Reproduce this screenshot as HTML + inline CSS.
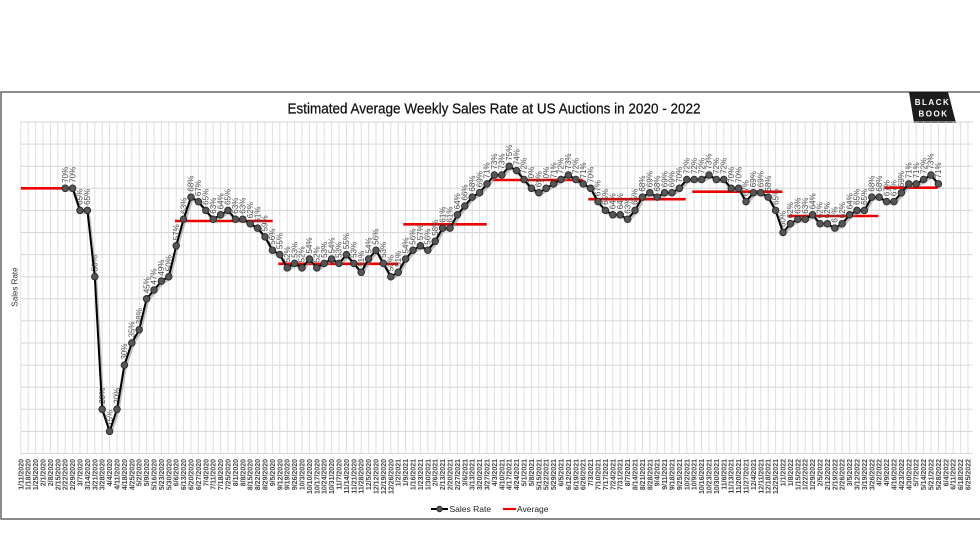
<!DOCTYPE html>
<html><head><meta charset="utf-8"><style>
html,body{margin:0;padding:0;background:#fff;width:980px;height:552px;overflow:hidden}
svg{display:block}
.dl{font-family:"Liberation Sans",Arial,sans-serif;font-size:8px;fill:#4e4e4e}
.xl{font-family:"Liberation Sans",Arial,sans-serif;font-size:7px;font-weight:bold;fill:#444}
</style></head><body>
<svg width="980" height="552" viewBox="0 0 980 552" xmlns="http://www.w3.org/2000/svg">
<defs>
<marker id="m" markerWidth="10" markerHeight="10" refX="5" refY="5" markerUnits="userSpaceOnUse">
<circle cx="5" cy="5" r="3.3" fill="#555" stroke="#2a2a2a" stroke-width="0.9"/>
</marker>
</defs>
<rect x="1" y="92" width="990" height="427" fill="#fff" stroke="#666" stroke-width="1.5"/>
<text x="494" y="113.5" text-anchor="middle" font-family="Liberation Sans, Arial, sans-serif" font-size="14.5" fill="#111" stroke="#111" stroke-width="0.25" textLength="413" lengthAdjust="spacingAndGlyphs">Estimated Average Weekly Sales Rate at US Auctions in 2020 - 2022</text>
<polygon points="909,92 948,92 956,123 914,123" fill="#1c1c1c"/>
<text x="932.5" y="105" text-anchor="middle" font-family="Liberation Sans, Arial, sans-serif" font-size="8" font-weight="bold" fill="#fff" letter-spacing="1.5">BLACK</text>
<text x="933.5" y="116.5" text-anchor="middle" font-family="Liberation Sans, Arial, sans-serif" font-size="8" font-weight="bold" fill="#fff" letter-spacing="1.5">BOOK</text>
<path stroke="#dfdfdf" stroke-width="1" fill="none" d="M20.8 122V453.5M28.2 122V453.5M35.6 122V453.5M43 122V453.5M50.4 122V453.5M57.8 122V453.5M65.2 122V453.5M72.6 122V453.5M80 122V453.5M87.4 122V453.5M94.8 122V453.5M102.2 122V453.5M109.6 122V453.5M117 122V453.5M124.4 122V453.5M131.8 122V453.5M139.2 122V453.5M146.6 122V453.5M154 122V453.5M161.4 122V453.5M168.8 122V453.5M176.2 122V453.5M183.6 122V453.5M191 122V453.5M198.4 122V453.5M205.8 122V453.5M213.2 122V453.5M220.6 122V453.5M228 122V453.5M235.4 122V453.5M242.8 122V453.5M250.2 122V453.5M257.6 122V453.5M265 122V453.5M272.4 122V453.5M279.8 122V453.5M287.2 122V453.5M294.6 122V453.5M302 122V453.5M309.4 122V453.5M316.8 122V453.5M324.2 122V453.5M331.6 122V453.5M339 122V453.5M346.4 122V453.5M353.8 122V453.5M361.2 122V453.5M368.6 122V453.5M376 122V453.5M383.4 122V453.5M390.8 122V453.5M398.2 122V453.5M405.6 122V453.5M413 122V453.5M420.4 122V453.5M427.8 122V453.5M435.2 122V453.5M442.6 122V453.5M450 122V453.5M457.4 122V453.5M464.8 122V453.5M472.2 122V453.5M479.6 122V453.5M487 122V453.5M494.4 122V453.5M501.8 122V453.5M509.2 122V453.5M516.6 122V453.5M524 122V453.5M531.4 122V453.5M538.8 122V453.5M546.2 122V453.5M553.6 122V453.5M561 122V453.5M568.4 122V453.5M575.8 122V453.5M583.2 122V453.5M590.6 122V453.5M598 122V453.5M605.4 122V453.5M612.8 122V453.5M620.2 122V453.5M627.6 122V453.5M635 122V453.5M642.4 122V453.5M649.8 122V453.5M657.2 122V453.5M664.6 122V453.5M672 122V453.5M679.4 122V453.5M686.8 122V453.5M694.2 122V453.5M701.6 122V453.5M709 122V453.5M716.4 122V453.5M723.8 122V453.5M731.2 122V453.5M738.6 122V453.5M746 122V453.5M753.4 122V453.5M760.8 122V453.5M768.2 122V453.5M775.6 122V453.5M783 122V453.5M790.4 122V453.5M797.8 122V453.5M805.2 122V453.5M812.6 122V453.5M820 122V453.5M827.4 122V453.5M834.8 122V453.5M842.2 122V453.5M849.6 122V453.5M857 122V453.5M864.4 122V453.5M871.8 122V453.5M879.2 122V453.5M886.6 122V453.5M894 122V453.5M901.4 122V453.5M908.8 122V453.5M916.2 122V453.5M923.6 122V453.5M931 122V453.5M938.4 122V453.5M945.8 122V453.5M953.2 122V453.5M960.6 122V453.5M968 122V453.5"/>
<path stroke="#d6d6d6" stroke-width="1" fill="none" d="M20.8 122H972.5M20.8 144.1H972.5M20.8 166.2H972.5M20.8 188.3H972.5M20.8 210.4H972.5M20.8 232.5H972.5M20.8 254.6H972.5M20.8 276.7H972.5M20.8 298.8H972.5M20.8 320.9H972.5M20.8 343H972.5M20.8 365.1H972.5M20.8 387.2H972.5M20.8 409.3H972.5M20.8 431.4H972.5M20.8 453.5H972.5"/>
<text transform="translate(17.5,287) rotate(-90)" text-anchor="middle" font-family="Liberation Sans, Arial, sans-serif" font-size="8" fill="#333">Sales Rate</text>
<g stroke="#ee0000" stroke-width="2.6" fill="none">
<path d="M20.8 188.3H72.6"/><path d="M175 221H272.7"/><path d="M278.3 263.8H398.3"/><path d="M403.3 224.3H486.7"/><path d="M492.7 180H582.7"/><path d="M588.3 199.2H685.7"/><path d="M692.3 191.7H782.3"/><path d="M788.3 216H878.3"/><path d="M884.3 187.7H937.7"/>
</g>
<g class="dl">
<text transform="translate(67.9,182.8) rotate(-90)">70%</text>
<text transform="translate(75.3,182.8) rotate(-90)">70%</text>
<text transform="translate(82.7,204.9) rotate(-90)">65%</text>
<text transform="translate(90.1,204.9) rotate(-90)">65%</text>
<text transform="translate(97.5,271.2) rotate(-90)">50%</text>
<text transform="translate(104.9,403.8) rotate(-90)">20%</text>
<text transform="translate(112.3,425.9) rotate(-90)">15%</text>
<text transform="translate(119.7,403.8) rotate(-90)">20%</text>
<text transform="translate(127.1,359.6) rotate(-90)">30%</text>
<text transform="translate(134.5,337.5) rotate(-90)">35%</text>
<text transform="translate(141.9,324.2) rotate(-90)">38%</text>
<text transform="translate(149.3,293.3) rotate(-90)">45%</text>
<text transform="translate(156.7,284.5) rotate(-90)">47%</text>
<text transform="translate(164.1,275.6) rotate(-90)">49%</text>
<text transform="translate(171.5,271.2) rotate(-90)">50%</text>
<text transform="translate(178.9,240.3) rotate(-90)">57%</text>
<text transform="translate(186.3,213.7) rotate(-90)">63%</text>
<text transform="translate(193.7,191.6) rotate(-90)">68%</text>
<text transform="translate(201.1,196.1) rotate(-90)">67%</text>
<text transform="translate(208.5,204.9) rotate(-90)">65%</text>
<text transform="translate(215.9,213.7) rotate(-90)">63%</text>
<text transform="translate(223.3,209.3) rotate(-90)">64%</text>
<text transform="translate(230.7,204.9) rotate(-90)">65%</text>
<text transform="translate(238.1,213.7) rotate(-90)">63%</text>
<text transform="translate(245.5,213.7) rotate(-90)">63%</text>
<text transform="translate(252.9,218.2) rotate(-90)">62%</text>
<text transform="translate(260.3,222.6) rotate(-90)">61%</text>
<text transform="translate(267.7,231.4) rotate(-90)">59%</text>
<text transform="translate(275.1,244.7) rotate(-90)">56%</text>
<text transform="translate(282.5,249.1) rotate(-90)">55%</text>
<text transform="translate(289.9,262.4) rotate(-90)">52%</text>
<text transform="translate(297.3,257.9) rotate(-90)">53%</text>
<text transform="translate(304.7,262.4) rotate(-90)">52%</text>
<text transform="translate(312.1,253.5) rotate(-90)">54%</text>
<text transform="translate(319.5,262.4) rotate(-90)">52%</text>
<text transform="translate(326.9,257.9) rotate(-90)">53%</text>
<text transform="translate(334.3,253.5) rotate(-90)">54%</text>
<text transform="translate(341.7,257.9) rotate(-90)">53%</text>
<text transform="translate(349.1,249.1) rotate(-90)">55%</text>
<text transform="translate(356.5,257.9) rotate(-90)">53%</text>
<text transform="translate(363.9,266.8) rotate(-90)">51%</text>
<text transform="translate(371.3,253.5) rotate(-90)">54%</text>
<text transform="translate(378.7,244.7) rotate(-90)">56%</text>
<text transform="translate(386.1,257.9) rotate(-90)">53%</text>
<text transform="translate(393.5,271.2) rotate(-90)">50%</text>
<text transform="translate(400.9,266.8) rotate(-90)">51%</text>
<text transform="translate(408.3,253.5) rotate(-90)">54%</text>
<text transform="translate(415.7,244.7) rotate(-90)">56%</text>
<text transform="translate(423.1,240.3) rotate(-90)">57%</text>
<text transform="translate(430.5,244.7) rotate(-90)">56%</text>
<text transform="translate(437.9,235.8) rotate(-90)">58%</text>
<text transform="translate(445.3,222.6) rotate(-90)">61%</text>
<text transform="translate(452.7,222.6) rotate(-90)">61%</text>
<text transform="translate(460.1,209.3) rotate(-90)">64%</text>
<text transform="translate(467.5,200.5) rotate(-90)">66%</text>
<text transform="translate(474.9,191.6) rotate(-90)">68%</text>
<text transform="translate(482.3,187.2) rotate(-90)">69%</text>
<text transform="translate(489.7,178.4) rotate(-90)">71%</text>
<text transform="translate(497.1,169.5) rotate(-90)">73%</text>
<text transform="translate(504.5,169.5) rotate(-90)">73%</text>
<text transform="translate(511.9,160.7) rotate(-90)">75%</text>
<text transform="translate(519.3,165.1) rotate(-90)">74%</text>
<text transform="translate(526.7,174) rotate(-90)">72%</text>
<text transform="translate(534.1,182.8) rotate(-90)">70%</text>
<text transform="translate(541.5,187.2) rotate(-90)">69%</text>
<text transform="translate(548.9,182.8) rotate(-90)">70%</text>
<text transform="translate(556.3,178.4) rotate(-90)">71%</text>
<text transform="translate(563.7,174) rotate(-90)">72%</text>
<text transform="translate(571.1,169.5) rotate(-90)">73%</text>
<text transform="translate(578.5,174) rotate(-90)">72%</text>
<text transform="translate(585.9,178.4) rotate(-90)">71%</text>
<text transform="translate(593.3,182.8) rotate(-90)">70%</text>
<text transform="translate(600.7,196.1) rotate(-90)">67%</text>
<text transform="translate(608.1,204.9) rotate(-90)">65%</text>
<text transform="translate(615.5,209.3) rotate(-90)">64%</text>
<text transform="translate(622.9,209.3) rotate(-90)">64%</text>
<text transform="translate(630.3,213.7) rotate(-90)">63%</text>
<text transform="translate(637.7,204.9) rotate(-90)">65%</text>
<text transform="translate(645.1,191.6) rotate(-90)">68%</text>
<text transform="translate(652.5,187.2) rotate(-90)">69%</text>
<text transform="translate(659.9,191.6) rotate(-90)">68%</text>
<text transform="translate(667.3,187.2) rotate(-90)">69%</text>
<text transform="translate(674.7,187.2) rotate(-90)">69%</text>
<text transform="translate(682.1,182.8) rotate(-90)">70%</text>
<text transform="translate(689.5,174) rotate(-90)">72%</text>
<text transform="translate(696.9,174) rotate(-90)">72%</text>
<text transform="translate(704.3,174) rotate(-90)">72%</text>
<text transform="translate(711.7,169.5) rotate(-90)">73%</text>
<text transform="translate(719.1,174) rotate(-90)">72%</text>
<text transform="translate(726.5,174) rotate(-90)">72%</text>
<text transform="translate(733.9,182.8) rotate(-90)">70%</text>
<text transform="translate(741.3,182.8) rotate(-90)">70%</text>
<text transform="translate(748.7,196.1) rotate(-90)">67%</text>
<text transform="translate(756.1,187.2) rotate(-90)">69%</text>
<text transform="translate(763.5,187.2) rotate(-90)">69%</text>
<text transform="translate(770.9,191.6) rotate(-90)">68%</text>
<text transform="translate(778.3,204.9) rotate(-90)">65%</text>
<text transform="translate(785.7,227) rotate(-90)">60%</text>
<text transform="translate(793.1,218.2) rotate(-90)">62%</text>
<text transform="translate(800.5,213.7) rotate(-90)">63%</text>
<text transform="translate(807.9,213.7) rotate(-90)">63%</text>
<text transform="translate(815.3,209.3) rotate(-90)">64%</text>
<text transform="translate(822.7,218.2) rotate(-90)">62%</text>
<text transform="translate(830.1,218.2) rotate(-90)">62%</text>
<text transform="translate(837.5,222.6) rotate(-90)">61%</text>
<text transform="translate(844.9,218.2) rotate(-90)">62%</text>
<text transform="translate(852.3,209.3) rotate(-90)">64%</text>
<text transform="translate(859.7,204.9) rotate(-90)">65%</text>
<text transform="translate(867.1,204.9) rotate(-90)">65%</text>
<text transform="translate(874.5,191.6) rotate(-90)">68%</text>
<text transform="translate(881.9,191.6) rotate(-90)">68%</text>
<text transform="translate(889.3,196.1) rotate(-90)">67%</text>
<text transform="translate(896.7,196.1) rotate(-90)">67%</text>
<text transform="translate(904.1,187.2) rotate(-90)">69%</text>
<text transform="translate(911.5,178.4) rotate(-90)">71%</text>
<text transform="translate(918.9,178.4) rotate(-90)">71%</text>
<text transform="translate(926.3,174) rotate(-90)">72%</text>
<text transform="translate(933.7,169.5) rotate(-90)">73%</text>
<text transform="translate(941.1,178.4) rotate(-90)">71%</text>
</g>
<polyline transform="translate(1,1.8)" fill="none" stroke="#8a8a8a" stroke-opacity="0.55" stroke-width="3" stroke-linejoin="round" points="65.2,188.3 72.6,188.3 80.0,210.4 87.4,210.4 94.8,276.7 102.2,409.3 109.6,431.4 117.0,409.3 124.4,365.1 131.8,343.0 139.2,329.7 146.6,298.8 154.0,290.0 161.4,281.1 168.8,276.7 176.2,245.8 183.6,219.2 191.0,197.1 198.4,201.6 205.8,210.4 213.2,219.2 220.6,214.8 228.0,210.4 235.4,219.2 242.8,219.2 250.2,223.7 257.6,228.1 265.0,236.9 272.4,250.2 279.8,254.6 287.2,267.9 294.6,263.4 302.0,267.9 309.4,259.0 316.8,267.9 324.2,263.4 331.6,259.0 339.0,263.4 346.4,254.6 353.8,263.4 361.2,272.3 368.6,259.0 376.0,250.2 383.4,263.4 390.8,276.7 398.2,272.3 405.6,259.0 413.0,250.2 420.4,245.8 427.8,250.2 435.2,241.3 442.6,228.1 450.0,228.1 457.4,214.8 464.8,206.0 472.2,197.1 479.6,192.7 487.0,183.9 494.4,175.0 501.8,175.0 509.2,166.2 516.6,170.6 524.0,179.5 531.4,188.3 538.8,192.7 546.2,188.3 553.6,183.9 561.0,179.5 568.4,175.0 575.8,179.5 583.2,183.9 590.6,188.3 598.0,201.6 605.4,210.4 612.8,214.8 620.2,214.8 627.6,219.2 635.0,210.4 642.4,197.1 649.8,192.7 657.2,197.1 664.6,192.7 672.0,192.7 679.4,188.3 686.8,179.5 694.2,179.5 701.6,179.5 709.0,175.0 716.4,179.5 723.8,179.5 731.2,188.3 738.6,188.3 746.0,201.6 753.4,192.7 760.8,192.7 768.2,197.1 775.6,210.4 783.0,232.5 790.4,223.7 797.8,219.2 805.2,219.2 812.6,214.8 820.0,223.7 827.4,223.7 834.8,228.1 842.2,223.7 849.6,214.8 857.0,210.4 864.4,210.4 871.8,197.1 879.2,197.1 886.6,201.6 894.0,201.6 901.4,192.7 908.8,183.9 916.2,183.9 923.6,179.5 931.0,175.0 938.4,183.9"/>
<polyline fill="none" stroke="#000" stroke-width="2" stroke-linejoin="round" marker-start="url(#m)" marker-mid="url(#m)" marker-end="url(#m)" points="65.2,188.3 72.6,188.3 80.0,210.4 87.4,210.4 94.8,276.7 102.2,409.3 109.6,431.4 117.0,409.3 124.4,365.1 131.8,343.0 139.2,329.7 146.6,298.8 154.0,290.0 161.4,281.1 168.8,276.7 176.2,245.8 183.6,219.2 191.0,197.1 198.4,201.6 205.8,210.4 213.2,219.2 220.6,214.8 228.0,210.4 235.4,219.2 242.8,219.2 250.2,223.7 257.6,228.1 265.0,236.9 272.4,250.2 279.8,254.6 287.2,267.9 294.6,263.4 302.0,267.9 309.4,259.0 316.8,267.9 324.2,263.4 331.6,259.0 339.0,263.4 346.4,254.6 353.8,263.4 361.2,272.3 368.6,259.0 376.0,250.2 383.4,263.4 390.8,276.7 398.2,272.3 405.6,259.0 413.0,250.2 420.4,245.8 427.8,250.2 435.2,241.3 442.6,228.1 450.0,228.1 457.4,214.8 464.8,206.0 472.2,197.1 479.6,192.7 487.0,183.9 494.4,175.0 501.8,175.0 509.2,166.2 516.6,170.6 524.0,179.5 531.4,188.3 538.8,192.7 546.2,188.3 553.6,183.9 561.0,179.5 568.4,175.0 575.8,179.5 583.2,183.9 590.6,188.3 598.0,201.6 605.4,210.4 612.8,214.8 620.2,214.8 627.6,219.2 635.0,210.4 642.4,197.1 649.8,192.7 657.2,197.1 664.6,192.7 672.0,192.7 679.4,188.3 686.8,179.5 694.2,179.5 701.6,179.5 709.0,175.0 716.4,179.5 723.8,179.5 731.2,188.3 738.6,188.3 746.0,201.6 753.4,192.7 760.8,192.7 768.2,197.1 775.6,210.4 783.0,232.5 790.4,223.7 797.8,219.2 805.2,219.2 812.6,214.8 820.0,223.7 827.4,223.7 834.8,228.1 842.2,223.7 849.6,214.8 857.0,210.4 864.4,210.4 871.8,197.1 879.2,197.1 886.6,201.6 894.0,201.6 901.4,192.7 908.8,183.9 916.2,183.9 923.6,179.5 931.0,175.0 938.4,183.9"/>
<g class="xl" text-anchor="end">
<text transform="translate(23.3,459) rotate(-90)">1/11/2020</text>
<text transform="translate(30.7,459) rotate(-90)">1/18/2020</text>
<text transform="translate(38.1,459) rotate(-90)">1/25/2020</text>
<text transform="translate(45.5,459) rotate(-90)">2/1/2020</text>
<text transform="translate(52.9,459) rotate(-90)">2/8/2020</text>
<text transform="translate(60.3,459) rotate(-90)">2/15/2020</text>
<text transform="translate(67.7,459) rotate(-90)">2/22/2020</text>
<text transform="translate(75.1,459) rotate(-90)">2/29/2020</text>
<text transform="translate(82.5,459) rotate(-90)">3/7/2020</text>
<text transform="translate(89.9,459) rotate(-90)">3/14/2020</text>
<text transform="translate(97.3,459) rotate(-90)">3/21/2020</text>
<text transform="translate(104.7,459) rotate(-90)">3/28/2020</text>
<text transform="translate(112.1,459) rotate(-90)">4/4/2020</text>
<text transform="translate(119.5,459) rotate(-90)">4/11/2020</text>
<text transform="translate(126.9,459) rotate(-90)">4/18/2020</text>
<text transform="translate(134.3,459) rotate(-90)">4/25/2020</text>
<text transform="translate(141.7,459) rotate(-90)">5/2/2020</text>
<text transform="translate(149.1,459) rotate(-90)">5/9/2020</text>
<text transform="translate(156.5,459) rotate(-90)">5/16/2020</text>
<text transform="translate(163.9,459) rotate(-90)">5/23/2020</text>
<text transform="translate(171.3,459) rotate(-90)">5/30/2020</text>
<text transform="translate(178.7,459) rotate(-90)">6/6/2020</text>
<text transform="translate(186.1,459) rotate(-90)">6/13/2020</text>
<text transform="translate(193.5,459) rotate(-90)">6/20/2020</text>
<text transform="translate(200.9,459) rotate(-90)">6/27/2020</text>
<text transform="translate(208.3,459) rotate(-90)">7/4/2020</text>
<text transform="translate(215.7,459) rotate(-90)">7/11/2020</text>
<text transform="translate(223.1,459) rotate(-90)">7/18/2020</text>
<text transform="translate(230.5,459) rotate(-90)">7/25/2020</text>
<text transform="translate(237.9,459) rotate(-90)">8/1/2020</text>
<text transform="translate(245.3,459) rotate(-90)">8/8/2020</text>
<text transform="translate(252.7,459) rotate(-90)">8/15/2020</text>
<text transform="translate(260.1,459) rotate(-90)">8/22/2020</text>
<text transform="translate(267.5,459) rotate(-90)">8/29/2020</text>
<text transform="translate(274.9,459) rotate(-90)">9/5/2020</text>
<text transform="translate(282.3,459) rotate(-90)">9/12/2020</text>
<text transform="translate(289.7,459) rotate(-90)">9/19/2020</text>
<text transform="translate(297.1,459) rotate(-90)">9/26/2020</text>
<text transform="translate(304.5,459) rotate(-90)">10/3/2020</text>
<text transform="translate(311.9,459) rotate(-90)">10/10/2020</text>
<text transform="translate(319.3,459) rotate(-90)">10/17/2020</text>
<text transform="translate(326.7,459) rotate(-90)">10/24/2020</text>
<text transform="translate(334.1,459) rotate(-90)">10/31/2020</text>
<text transform="translate(341.5,459) rotate(-90)">11/7/2020</text>
<text transform="translate(348.9,459) rotate(-90)">11/14/2020</text>
<text transform="translate(356.3,459) rotate(-90)">11/21/2020</text>
<text transform="translate(363.7,459) rotate(-90)">11/28/2020</text>
<text transform="translate(371.1,459) rotate(-90)">12/5/2020</text>
<text transform="translate(378.5,459) rotate(-90)">12/12/2020</text>
<text transform="translate(385.9,459) rotate(-90)">12/19/2020</text>
<text transform="translate(393.3,459) rotate(-90)">12/26/2020</text>
<text transform="translate(400.7,459) rotate(-90)">1/2/2021</text>
<text transform="translate(408.1,459) rotate(-90)">1/9/2021</text>
<text transform="translate(415.5,459) rotate(-90)">1/16/2021</text>
<text transform="translate(422.9,459) rotate(-90)">1/23/2021</text>
<text transform="translate(430.3,459) rotate(-90)">1/30/2021</text>
<text transform="translate(437.7,459) rotate(-90)">2/6/2021</text>
<text transform="translate(445.1,459) rotate(-90)">2/13/2021</text>
<text transform="translate(452.5,459) rotate(-90)">2/20/2021</text>
<text transform="translate(459.9,459) rotate(-90)">2/27/2021</text>
<text transform="translate(467.3,459) rotate(-90)">3/6/2021</text>
<text transform="translate(474.7,459) rotate(-90)">3/13/2021</text>
<text transform="translate(482.1,459) rotate(-90)">3/20/2021</text>
<text transform="translate(489.5,459) rotate(-90)">3/27/2021</text>
<text transform="translate(496.9,459) rotate(-90)">4/3/2021</text>
<text transform="translate(504.3,459) rotate(-90)">4/10/2021</text>
<text transform="translate(511.7,459) rotate(-90)">4/17/2021</text>
<text transform="translate(519.1,459) rotate(-90)">4/24/2021</text>
<text transform="translate(526.5,459) rotate(-90)">5/1/2021</text>
<text transform="translate(533.9,459) rotate(-90)">5/8/2021</text>
<text transform="translate(541.3,459) rotate(-90)">5/15/2021</text>
<text transform="translate(548.7,459) rotate(-90)">5/22/2021</text>
<text transform="translate(556.1,459) rotate(-90)">5/29/2021</text>
<text transform="translate(563.5,459) rotate(-90)">6/5/2021</text>
<text transform="translate(570.9,459) rotate(-90)">6/12/2021</text>
<text transform="translate(578.3,459) rotate(-90)">6/19/2021</text>
<text transform="translate(585.7,459) rotate(-90)">6/26/2021</text>
<text transform="translate(593.1,459) rotate(-90)">7/3/2021</text>
<text transform="translate(600.5,459) rotate(-90)">7/10/2021</text>
<text transform="translate(607.9,459) rotate(-90)">7/17/2021</text>
<text transform="translate(615.3,459) rotate(-90)">7/24/2021</text>
<text transform="translate(622.7,459) rotate(-90)">7/31/2021</text>
<text transform="translate(630.1,459) rotate(-90)">8/7/2021</text>
<text transform="translate(637.5,459) rotate(-90)">8/14/2021</text>
<text transform="translate(644.9,459) rotate(-90)">8/21/2021</text>
<text transform="translate(652.3,459) rotate(-90)">8/28/2021</text>
<text transform="translate(659.7,459) rotate(-90)">9/4/2021</text>
<text transform="translate(667.1,459) rotate(-90)">9/11/2021</text>
<text transform="translate(674.5,459) rotate(-90)">9/18/2021</text>
<text transform="translate(681.9,459) rotate(-90)">9/25/2021</text>
<text transform="translate(689.3,459) rotate(-90)">10/2/2021</text>
<text transform="translate(696.7,459) rotate(-90)">10/9/2021</text>
<text transform="translate(704.1,459) rotate(-90)">10/16/2021</text>
<text transform="translate(711.5,459) rotate(-90)">10/23/2021</text>
<text transform="translate(718.9,459) rotate(-90)">10/30/2021</text>
<text transform="translate(726.3,459) rotate(-90)">11/6/2021</text>
<text transform="translate(733.7,459) rotate(-90)">11/13/2021</text>
<text transform="translate(741.1,459) rotate(-90)">11/20/2021</text>
<text transform="translate(748.5,459) rotate(-90)">11/27/2021</text>
<text transform="translate(755.9,459) rotate(-90)">12/4/2021</text>
<text transform="translate(763.3,459) rotate(-90)">12/11/2021</text>
<text transform="translate(770.7,459) rotate(-90)">12/18/2021</text>
<text transform="translate(778.1,459) rotate(-90)">12/25/2021</text>
<text transform="translate(785.5,459) rotate(-90)">1/1/2022</text>
<text transform="translate(792.9,459) rotate(-90)">1/8/2022</text>
<text transform="translate(800.3,459) rotate(-90)">1/15/2022</text>
<text transform="translate(807.7,459) rotate(-90)">1/22/2022</text>
<text transform="translate(815.1,459) rotate(-90)">1/29/2022</text>
<text transform="translate(822.5,459) rotate(-90)">2/5/2022</text>
<text transform="translate(829.9,459) rotate(-90)">2/12/2022</text>
<text transform="translate(837.3,459) rotate(-90)">2/19/2022</text>
<text transform="translate(844.7,459) rotate(-90)">2/26/2022</text>
<text transform="translate(852.1,459) rotate(-90)">3/5/2022</text>
<text transform="translate(859.5,459) rotate(-90)">3/12/2022</text>
<text transform="translate(866.9,459) rotate(-90)">3/19/2022</text>
<text transform="translate(874.3,459) rotate(-90)">3/26/2022</text>
<text transform="translate(881.7,459) rotate(-90)">4/2/2022</text>
<text transform="translate(889.1,459) rotate(-90)">4/9/2022</text>
<text transform="translate(896.5,459) rotate(-90)">4/16/2022</text>
<text transform="translate(903.9,459) rotate(-90)">4/23/2022</text>
<text transform="translate(911.3,459) rotate(-90)">4/30/2022</text>
<text transform="translate(918.7,459) rotate(-90)">5/7/2022</text>
<text transform="translate(926.1,459) rotate(-90)">5/14/2022</text>
<text transform="translate(933.5,459) rotate(-90)">5/21/2022</text>
<text transform="translate(940.9,459) rotate(-90)">5/28/2022</text>
<text transform="translate(948.3,459) rotate(-90)">6/4/2022</text>
<text transform="translate(955.7,459) rotate(-90)">6/11/2022</text>
<text transform="translate(963.1,459) rotate(-90)">6/18/2022</text>
<text transform="translate(970.5,459) rotate(-90)">6/25/2022</text>
</g>
<line x1="431" y1="509" x2="448" y2="509" stroke="#000" stroke-width="2"/>
<circle cx="439.5" cy="509" r="2.8" fill="#555" stroke="#222" stroke-width="0.8"/>
<text x="449.5" y="512" font-family="Liberation Sans, Arial, sans-serif" font-size="8.5" fill="#222">Sales Rate</text>
<line x1="503" y1="509" x2="516" y2="509" stroke="#ee0000" stroke-width="2.2"/>
<text x="517" y="512" font-family="Liberation Sans, Arial, sans-serif" font-size="8.5" fill="#222">Average</text>
</svg>
</body></html>
